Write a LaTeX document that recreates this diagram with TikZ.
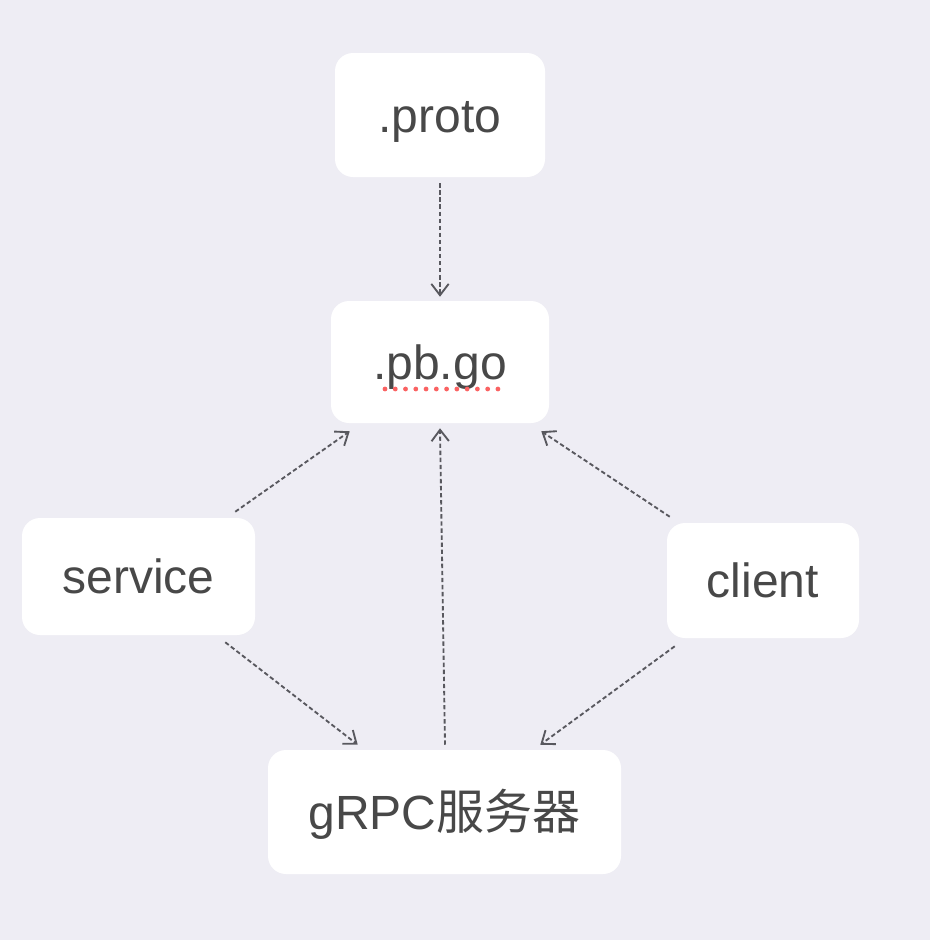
\documentclass[tikz,border=0pt]{standalone}
\usepackage{fontspec}
\setmainfont{Liberation Sans}
\newfontfamily\cjkfont{Noto Sans CJK SC}
\usetikzlibrary{arrows.meta}
\definecolor{bgcol}{RGB}{238,237,244}
\definecolor{txtcol}{RGB}{72,72,72}
\definecolor{linecol}{RGB}{88,88,94}
\definecolor{spellred}{RGB}{250,98,98}
\tikzset{
  box/.style={fill=white, rounded corners=13.5pt, inner sep=0pt, text=txtcol,
    text height=30pt, text depth=4.5pt, font=\fontsize{36}{40}\selectfont},
  link/.style={draw=linecol, line width=1.4pt, dash pattern=on 3.3pt off 2pt,
    -{Straight Barb[length=8.5pt,width=13pt,line width=1.4pt]}}
}
\begin{document}
\begin{tikzpicture}[x=0.75pt,y=-0.75pt]
    % canvas
    \fill[bgcol] (0,0) rectangle (930,940);
    \useasboundingbox (0,0) rectangle (930,940);
      \node[box, minimum width=157.5pt, minimum height=93pt] (proto) at (440,115) {.proto};
      \node[box, minimum width=163.5pt, minimum height=91.5pt] (pbgo) at (440,362) {.pb.go};
      \node[box, minimum width=174.75pt, minimum height=87.75pt] (service) at (138.5,576.5) {service};
      \node[box, minimum width=144pt, minimum height=86.25pt] (client) at (763,580.5) {client};
      \node[box, minimum width=264.75pt, minimum height=93pt] (grpc) at (444.5,812) {gRPC{\cjkfont 服务器}};
      % spell check marks
      \draw[spellred, line width=3.6pt, line cap=round, dash pattern=on 0pt off 7.7pt]
        ([shift={(-55,27)}]pbgo.center) -- ([shift={(68,27)}]pbgo.center);
      \draw[link] ([shift={(0,6)}]proto.south) -- ([shift={(0,-4)}]pbgo.north);
      \draw[link] ([shift={(-20,-6)}]service.north east) -- ([shift={(19,8)}]pbgo.south west);
      \draw[link] ([shift={(-30,7)}]service.south east) -- ([shift={(90,-5)}]grpc.north west);
      \draw[link] ([shift={(0.5,-5)}]grpc.north) -- ([shift={(0,5)}]pbgo.south);
      \draw[link] ([shift={(3,-6)}]client.north west) -- ([shift={(-8,8)}]pbgo.south east);
      \draw[link] ([shift={(8,8)}]client.south west) -- ([shift={(-81,-5)}]grpc.north east);
    \end{tikzpicture}
\end{document}
